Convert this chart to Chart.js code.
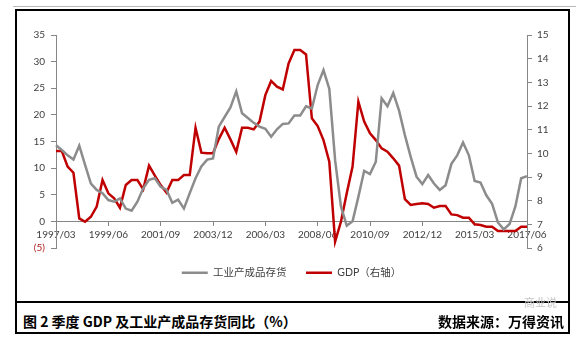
<!DOCTYPE html>
<html>
<head>
<meta charset="utf-8">
<script src="https://cdn.jsdelivr.net/npm/chart.js@4.4.1/dist/chart.umd.min.js"></script>
<style>
  html, body { margin: 0; padding: 0; background: #fff; width: 576px; height: 339px; overflow: hidden; }
  #wrap { position: relative; width: 576px; height: 339px; }
  #c { position: absolute; left: 0; top: 0; }
  .topline { position: absolute; left: 13px; top: 6px; width: 563px; height: 1px; background: #b8b8b8; }
  .frame { position: absolute; left: 15px; top: 9px; width: 555px; height: 325px; border: 2px solid #000; box-sizing: border-box; }
  .divider { position: absolute; left: 15px; top: 301px; width: 555px; height: 2px; background: #000; }
  .foot { position: absolute; top: 312px; font-family: "Noto Sans CJK SC", sans-serif; font-weight: 700; font-size: 14px; line-height: 18px; color: #000; white-space: nowrap; }
  .left { left: 23px; }
  .right { right: 12px; }
  .wm { position: absolute; left: 524px; top: 296px; font-family: "Noto Sans CJK SC", sans-serif; font-size: 11px; line-height: 12px; color: #c4c4c4; white-space: nowrap; }
</style>
</head>
<body>
<div id="wrap">
  <div class="topline"></div>
  <div class="frame"></div>
  <div class="divider"></div>
  <canvas id="c" width="576" height="302"></canvas>
  <div class="foot left">图 2 季度 GDP 及工业产成品存货同比（%）</div>
  <div class="wm">商业说</div>
  <div class="foot right">数据来源：万得资讯</div>
</div>
<script>
const categories = [
  '1997/03','1997/06','1997/09','1997/12',
  '1998/03','1998/06','1998/09','1998/12',
  '1999/03','1999/06','1999/09','1999/12',
  '2000/03','2000/06','2000/09','2000/12',
  '2001/03','2001/06','2001/09','2001/12',
  '2002/03','2002/06','2002/09','2002/12',
  '2003/03','2003/06','2003/09','2003/12',
  '2004/03','2004/06','2004/09','2004/12',
  '2005/03','2005/06','2005/09','2005/12',
  '2006/03','2006/06','2006/09','2006/12',
  '2007/03','2007/06','2007/09','2007/12',
  '2008/03','2008/06','2008/09','2008/12',
  '2009/03','2009/06','2009/09','2009/12',
  '2010/03','2010/06','2010/09','2010/12',
  '2011/03','2011/06','2011/09','2011/12',
  '2012/03','2012/06','2012/09','2012/12',
  '2013/03','2013/06','2013/09','2013/12',
  '2014/03','2014/06','2014/09','2014/12',
  '2015/03','2015/06','2015/09','2015/12',
  '2016/03','2016/06','2016/09','2016/12',
  '2017/03','2017/06'
];

const tickLabels = ['1997/03','1999/06','2001/09','2003/12','2006/03','2008/06','2010/09','2012/12','2015/03','2017/06'];

// 工业产成品存货 同比 (%) - left axis
const inventory = [
  14.3, 13.4, 12.4, 11.6,
  14.2, 10.6, 7.1, 5.9,
  5.3, 4.0, 3.7, 4.3,
  2.4, 2.0, 3.7, 6.2,
  7.8, 8.1, 6.5, 5.9,
  3.5, 4.1, 2.4, 5.3,
  8.1, 10.3, 11.6, 11.8,
  17.8, 19.6, 21.4, 24.4,
  20.3, 19.4, 18.5, 17.8,
  17.4, 15.9, 17.3, 18.3,
  18.4, 19.9, 19.9, 21.6,
  21.2, 25.6, 28.4, 24.9,
  11.5, 2.8, -0.8, 0.0,
  4.6, 9.5, 8.9, 11.2,
  23.1, 21.6, 24.1, 20.8,
  16.2, 12.1, 8.4, 7.0,
  8.7, 7.1, 5.9, 6.8,
  10.8, 12.4, 14.8, 12.4,
  7.6, 7.3, 4.9, 3.3,
  -0.2, -1.5, -0.5, 2.8,
  8.1, 8.5
];

// GDP 同比 (%) - right axis
const gdp = [
  10.1, 10.1, 9.44, 9.18,
  7.25, 7.11, 7.32, 7.75,
  8.87, 8.31, 8.10, 7.70,
  8.66, 8.87, 8.87, 8.48,
  9.48, 9.06, 8.66, 8.34,
  8.87, 8.87, 9.08, 9.08,
  11.08, 10.03, 10.0, 10.0,
  10.6, 11.08, 10.59, 10.06,
  11.08, 11.08, 11.01, 11.34,
  12.46, 13.06, 12.82, 12.70,
  13.80, 14.37, 14.37, 14.18,
  11.48, 11.15, 10.56, 9.65,
  6.27, 7.11, 8.31, 9.44,
  12.18, 11.34, 10.85, 10.56,
  10.21, 10.07, 9.79, 9.48,
  8.06, 7.82, 7.86, 7.89,
  7.86, 7.70, 7.77, 7.77,
  7.42, 7.39, 7.28, 7.28,
  7.0, 6.97, 6.90, 6.90,
  6.72, 6.72, 6.72, 6.72,
  6.90, 6.90
];

const FAMILY = "Lato, 'Noto Sans CJK SC', sans-serif";
const AXIS_COLOR = '#868686';
const TEXT_COLOR = '#404040';

new Chart(document.getElementById('c'), {
  type: 'line',
  data: {
    labels: categories,
    datasets: [
      {
        label: '工业产成品存货',
        data: inventory,
        yAxisID: 'y',
        borderColor: '#8C8C8C',
        backgroundColor: '#8C8C8C',
        borderWidth: 2.5,
        pointRadius: 0,
        tension: 0,
        fill: false
      },
      {
        label: 'GDP（右轴）',
        data: gdp,
        yAxisID: 'y1',
        borderColor: '#C00000',
        backgroundColor: '#C00000',
        borderWidth: 2.5,
        pointRadius: 0,
        tension: 0,
        fill: false
      }
    ]
  },
  options: {
    responsive: false,
    animation: false,
    devicePixelRatio: 1,
    layout: { padding: { left: 16, right: 9, top: 35, bottom: 14 } },
    plugins: {
      legend: {
        position: 'bottom',
        labels: {
          usePointStyle: true,
          pointStyle: 'line',
          pointStyleWidth: 26,
          padding: 19.5,
          color: TEXT_COLOR,
          font: { family: FAMILY, size: 10.5 }
        }
      },
      tooltip: { enabled: false }
    },
    scales: {
      x: {
        type: 'category',
        position: { y: 0 },
        offset: false,
        afterFit: (s) => { s.height = 0; },
        grid: { drawOnChartArea: false, drawTicks: true, tickLength: 4, color: AXIS_COLOR },
        border: { display: true, color: AXIS_COLOR, width: 1 },
        ticks: {
          autoSkip: false,
          maxRotation: 0,
          minRotation: 0,
          padding: 3,
          color: TEXT_COLOR,
          font: { family: FAMILY, size: 10 },
          callback: function (v) {
            const l = this.getLabelForValue(v);
            return tickLabels.includes(l) ? l : null;
          }
        }
      },
      y: {
        position: 'left',
        min: -5,
        max: 35,
        afterFit: (s) => { s.width = 40; },
        grid: { drawOnChartArea: false, drawTicks: true, tickLength: 5, color: AXIS_COLOR },
        border: { display: true, color: AXIS_COLOR, width: 1 },
        ticks: {
          stepSize: 5,
          padding: 6,
          font: { family: FAMILY, size: 10 },
          color: (c) => (c.tick && c.tick.value < 0) ? '#B01E1E' : TEXT_COLOR,
          callback: (v) => v < 0 ? '(' + (-v) + ')' : String(v)
        }
      },
      y1: {
        position: 'right',
        min: 6,
        max: 15,
        afterFit: (s) => { s.width = 40; },
        grid: { drawOnChartArea: false, drawTicks: true, tickLength: 5, color: AXIS_COLOR },
        border: { display: true, color: AXIS_COLOR, width: 1 },
        ticks: {
          stepSize: 1,
          padding: 5,
          font: { family: FAMILY, size: 10 },
          color: TEXT_COLOR
        }
      }
    }
  }
});
</script>
</body>
</html>
